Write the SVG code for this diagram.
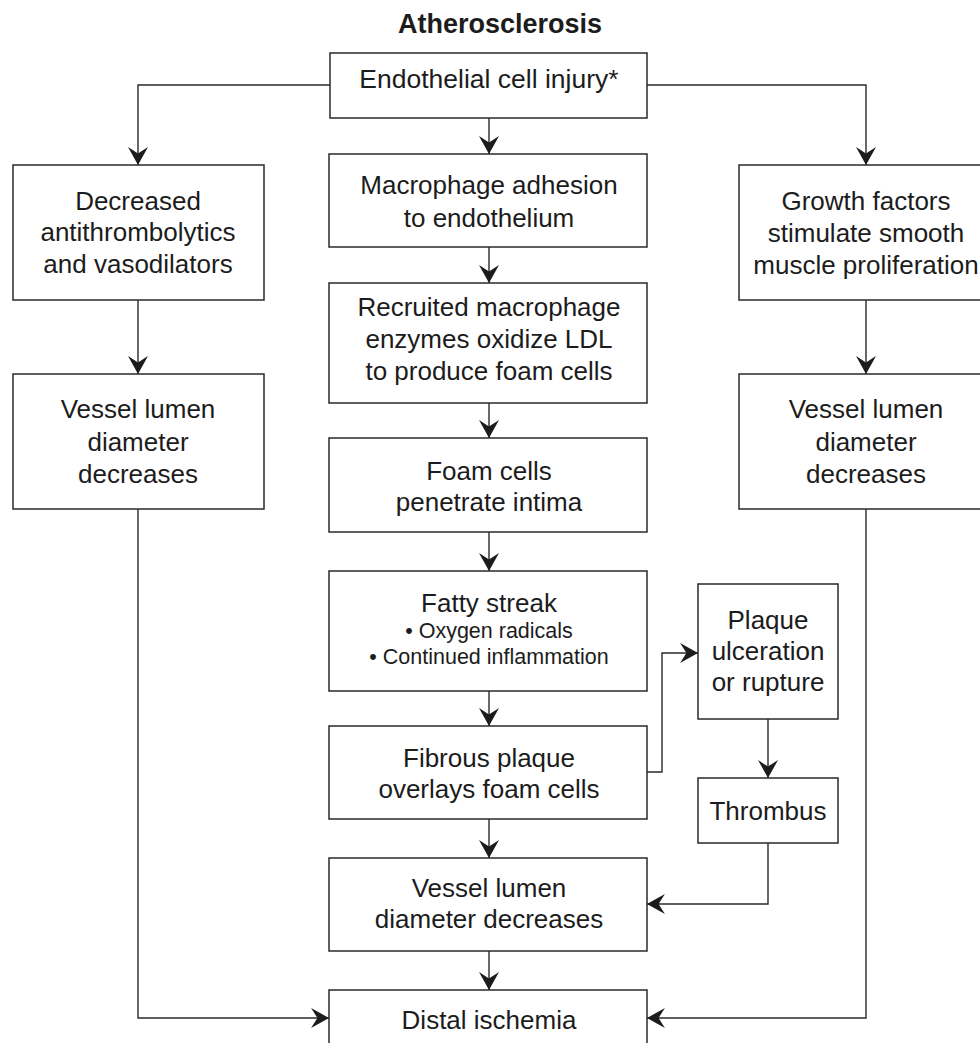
<svg xmlns="http://www.w3.org/2000/svg" width="980" height="1043" viewBox="0 0 980 1043">
<style>
.box{fill:#fff;stroke:#2a2a2a;stroke-width:1.5}
.t{font-family:"Liberation Sans",Arial,sans-serif;font-size:26px;fill:#1c1c1c;text-anchor:middle}
.s{font-size:21.5px}
.title{font-family:"Liberation Sans",Arial,sans-serif;font-size:27px;font-weight:bold;fill:#1c1c1c;text-anchor:middle}
.c{fill:none;stroke:#2a2a2a;stroke-width:1.4}
</style>
<defs>
<marker id="ah" markerUnits="userSpaceOnUse" markerWidth="20" markerHeight="22" viewBox="-18 -10 19 20" refX="0" refY="0" orient="auto">
<path d="M0,0 L-17,-9.5 L-11,0 L-17,9.5 Z" fill="#1c1c1c"/>
</marker>
</defs>
<rect width="980" height="1043" fill="#fff"/>
<text class="title" x="500" y="33">Atherosclerosis</text>

<g id="connectors">
<path class="c" d="M330,85 H138 V165" marker-end="url(#ah)"/>
<path class="c" d="M647,85 H866 V165" marker-end="url(#ah)"/>
<path class="c" d="M489,118 V154" marker-end="url(#ah)"/>
<path class="c" d="M489,247 V283" marker-end="url(#ah)"/>
<path class="c" d="M489,403 V438" marker-end="url(#ah)"/>
<path class="c" d="M489,532 V571" marker-end="url(#ah)"/>
<path class="c" d="M489,691 V726" marker-end="url(#ah)"/>
<path class="c" d="M489,819 V858" marker-end="url(#ah)"/>
<path class="c" d="M489,951 V990" marker-end="url(#ah)"/>
<path class="c" d="M138,300 V374" marker-end="url(#ah)"/>
<path class="c" d="M866,300 V374" marker-end="url(#ah)"/>
<path class="c" d="M138,509 V1018 H329" marker-end="url(#ah)"/>
<path class="c" d="M866,509 V1018 H647" marker-end="url(#ah)"/>
<path class="c" d="M647,772 H662 V653 H698" marker-end="url(#ah)"/>
<path class="c" d="M768,719 V778" marker-end="url(#ah)"/>
<path class="c" d="M768,843 V904 H647" marker-end="url(#ah)"/>
</g>

<g id="n-endothelial">
<rect class="box" x="330" y="53" width="317" height="65"/>
<text class="t" x="489" y="88" style="font-size:26.5px">Endothelial cell injury*</text>
</g>
<g id="n-decreased">
<rect class="box" x="13" y="165" width="251" height="135"/>
<text class="t" x="138" y="210">Decreased</text>
<text class="t" x="138" y="241">antithrombolytics</text>
<text class="t" x="138" y="273">and vasodilators</text>
</g>
<g id="n-vessel-left">
<rect class="box" x="13" y="374" width="251" height="135"/>
<text class="t" x="138" y="418">Vessel lumen</text>
<text class="t" x="138" y="451">diameter</text>
<text class="t" x="138" y="483">decreases</text>
</g>
<g id="n-growth">
<rect class="box" x="739" y="165" width="254" height="135"/>
<text class="t" x="866" y="210">Growth factors</text>
<text class="t" x="866" y="242">stimulate smooth</text>
<text class="t" x="866" y="274">muscle proliferation</text>
</g>
<g id="n-vessel-right">
<rect class="box" x="739" y="374" width="254" height="135"/>
<text class="t" x="866" y="418">Vessel lumen</text>
<text class="t" x="866" y="451">diameter</text>
<text class="t" x="866" y="483">decreases</text>
</g>
<g id="n-macrophage">
<rect class="box" x="329" y="154" width="318" height="93"/>
<text class="t" x="489" y="194">Macrophage adhesion</text>
<text class="t" x="489" y="227">to endothelium</text>
</g>
<g id="n-recruited">
<rect class="box" x="329" y="283" width="318" height="120"/>
<text class="t" x="489" y="316">Recruited macrophage</text>
<text class="t" x="489" y="348">enzymes oxidize LDL</text>
<text class="t" x="489" y="380">to produce foam cells</text>
</g>
<g id="n-foam">
<rect class="box" x="329" y="438" width="318" height="94"/>
<text class="t" x="489" y="480">Foam cells</text>
<text class="t" x="489" y="511">penetrate intima</text>
</g>
<g id="n-fatty">
<rect class="box" x="329" y="571" width="318" height="120"/>
<text class="t" x="489" y="612">Fatty streak</text>
<text class="t s" x="489" y="638">• Oxygen radicals</text>
<text class="t s" x="489" y="664">• Continued inflammation</text>
</g>
<g id="n-fibrous">
<rect class="box" x="329" y="726" width="318" height="93"/>
<text class="t" x="489" y="767">Fibrous plaque</text>
<text class="t" x="489" y="798">overlays foam cells</text>
</g>
<g id="n-vessel-mid">
<rect class="box" x="329" y="858" width="318" height="93"/>
<text class="t" x="489" y="897">Vessel lumen</text>
<text class="t" x="489" y="928">diameter decreases</text>
</g>
<g id="n-distal">
<rect class="box" x="329" y="990" width="318" height="70"/>
<text class="t" x="489" y="1029">Distal ischemia</text>
</g>
<g id="n-plaque">
<rect class="box" x="698" y="584" width="140" height="135"/>
<text class="t" x="768" y="629">Plaque</text>
<text class="t" x="768" y="660">ulceration</text>
<text class="t" x="768" y="691">or rupture</text>
</g>
<g id="n-thrombus">
<rect class="box" x="698" y="778" width="140" height="65"/>
<text class="t" x="768" y="820">Thrombus</text>
</g>
</svg>
